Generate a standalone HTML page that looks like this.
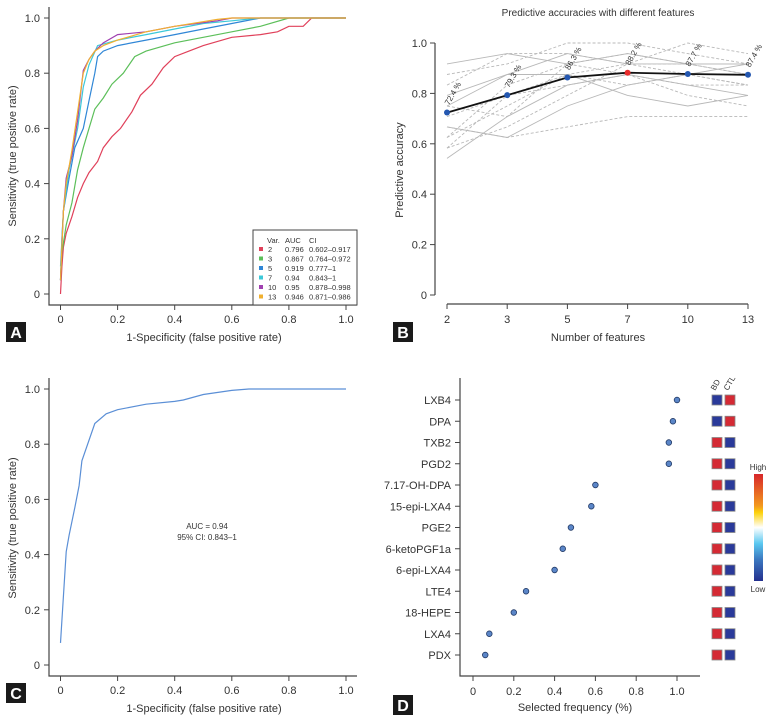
<!DOCTYPE html>
<html><head><meta charset="utf-8">
<style>
body{margin:0;background:#fff;}
svg{display:block;font-family:"Liberation Sans",sans-serif;}
text{fill:#333;}
</style></head>
<body>
<svg id="fig" width="774" height="720" viewBox="0 0 774 720">
<defs>
<linearGradient id="cb" x1="0" y1="0" x2="0" y2="1">
<stop offset="0" stop-color="#d7262a"/><stop offset="0.3" stop-color="#f39a1e"/><stop offset="0.36" stop-color="#fcd20a"/><stop offset="0.5" stop-color="#ffffff"/><stop offset="0.65" stop-color="#5ac8f0"/><stop offset="0.8" stop-color="#3b78c0"/><stop offset="1" stop-color="#24308e"/>
</linearGradient>
</defs>
<g id="pA"></g>
<g id="pB"></g>
<g id="pC"></g>
<g id="pD"></g>
</svg>
<script>
// ---- Panel A data ----
const aVars = ["2","3","5","7","10","13"];
const aAUC = ["0.796","0.867","0.919","0.94","0.95","0.946"];
const aCI = ["0.602–0.917","0.764–0.972","0.777–1","0.843–1","0.878–0.998","0.871–0.986"];
const aColors = ["#e0405a","#5cbf5a","#2f86d6","#3cc8d8","#a040b0","#f0b030"];
const aFpr2 = [0,0.005,0.01,0.02,0.04,0.06,0.08,0.1,0.13,0.15,0.18,0.21,0.25,0.28,0.32,0.36,0.4,0.45,0.5,0.6,0.7,0.76,0.8,0.85,0.88,1];
const aTpr2 = [0,0.1,0.17,0.22,0.28,0.35,0.4,0.44,0.48,0.53,0.57,0.6,0.66,0.72,0.76,0.82,0.86,0.88,0.9,0.93,0.94,0.95,0.97,0.97,1,1];
const aFpr3 = [0,0.005,0.02,0.04,0.06,0.08,0.1,0.12,0.15,0.18,0.22,0.26,0.3,0.4,0.5,0.6,0.7,0.8,1];
const aTpr3 = [0.05,0.15,0.25,0.33,0.45,0.53,0.6,0.67,0.71,0.76,0.8,0.86,0.88,0.91,0.93,0.95,0.97,1,1];
const aFpr5 = [0,0.005,0.01,0.03,0.05,0.08,0.1,0.12,0.13,0.15,0.2,0.3,0.4,0.5,0.6,0.7,1];
const aTpr5 = [0.05,0.2,0.3,0.42,0.53,0.6,0.7,0.8,0.86,0.88,0.9,0.92,0.94,0.96,0.98,1,1];
const aFpr7 = [0,0.01,0.03,0.06,0.08,0.1,0.13,0.2,0.3,0.4,0.5,0.6,0.7,1];
const aTpr7 = [0.1,0.3,0.45,0.6,0.75,0.83,0.9,0.92,0.94,0.96,0.98,0.99,1,1];
const aFpr10 = [0,0.01,0.02,0.04,0.06,0.08,0.1,0.12,0.15,0.2,0.3,0.4,0.55,0.6,1];
const aTpr10 = [0.05,0.3,0.42,0.5,0.63,0.81,0.85,0.88,0.91,0.94,0.95,0.97,0.99,1,1];
const aFpr13 = [0,0.01,0.02,0.04,0.06,0.08,0.1,0.12,0.15,0.2,0.3,0.4,0.55,0.6,1];
const aTpr13 = [0.05,0.3,0.4,0.52,0.66,0.8,0.85,0.88,0.9,0.92,0.95,0.97,0.995,1,1];
const aTicks = [0,0.2,0.4,0.6,0.8,1.0];
const aTickLabels = ["0","0.2","0.4","0.6","0.8","1.0"];
// ---- Panel B data ----
const bCats = ["2","3","5","7","10","13"];
const bMean = [0.724,0.793,0.863,0.882,0.877,0.874];
const bMeanLabels = ["72.4 %","79.3 %","86.3 %","88.2 %","87.7 %","87.4 %"];
const bFold1 = [0.917,0.958,0.917,0.958,0.917,0.917];
const bFold2 = [0.875,0.917,1.0,1.0,0.958,0.917];
const bFold3 = [0.833,0.958,0.958,0.917,0.875,0.833];
const bFold4 = [0.792,0.875,0.875,0.792,0.75,0.792];
const bFold5 = [0.75,0.708,0.917,0.958,0.917,0.875];
const bFold6 = [0.708,0.792,0.833,0.875,0.833,0.833];
const bFold7 = [0.667,0.625,0.75,0.833,0.875,0.917];
const bFold8 = [0.625,0.75,0.875,0.917,1.0,0.958];
const bFold9 = [0.583,0.667,0.792,0.917,0.917,0.875];
const bFold10 = [0.542,0.708,0.833,0.875,0.833,0.792];
const bFold11 = [0.625,0.833,0.917,0.875,0.792,0.75];
const bFold12 = [0.667,0.625,0.667,0.708,0.708,0.708];
const bFold13 = [0.75,0.875,0.958,0.917,0.917,0.917];
const bFold14 = [0.583,0.792,0.875,0.833,0.875,0.833];
const bYTicks = [0,0.2,0.4,0.6,0.8,1.0];
const bYTickLabels = ["0","0.2","0.4","0.6","0.8","1.0"];
// ---- Panel C data ----
const cFpr = [0,0.02,0.03,0.05,0.065,0.075,0.12,0.16,0.2,0.3,0.4,0.43,0.5,0.6,0.66,1];
const cTpr = [0.08,0.41,0.47,0.57,0.65,0.74,0.875,0.91,0.925,0.945,0.955,0.96,0.98,0.995,1,1];
// ---- Panel D data ----
const dNames = ["LXB4","DPA","TXB2","PGD2","7.17-OH-DPA","15-epi-LXA4","PGE2","6-ketoPGF1a","6-epi-LXA4","LTE4","18-HEPE","LXA4","PDX"];
const dFreq = [1.0,0.98,0.96,0.96,0.6,0.58,0.48,0.44,0.40,0.26,0.20,0.08,0.06];
const dBDHigh = [0,0,1,1,1,1,1,1,1,1,1,1,1];
const dXTicks = [0,0.2,0.4,0.6,0.8,1.0];
const dXTickLabels = ["0","0.2","0.4","0.6","0.8","1.0"];

const NS="http://www.w3.org/2000/svg";
function mk(parent,tag,attrs,txt){const e=document.createElementNS(NS,tag);for(const k in attrs)e.setAttribute(k,attrs[k]);if(txt!==undefined)e.textContent=txt;parent.appendChild(e);return e;}
function lin(d0,d1,r0,r1){return v=>r0+(v-d0)/(d1-d0)*(r1-r0);}
function panelLabel(g,x,y,t){
  const r=mk(g,"rect",{x:x,y:y,width:20,height:20,fill:"#1a1a1a"});
  
  
  const tx=mk(g,"text",{x:x+10,y:y+16,"text-anchor":"middle","font-size":"16","font-weight":"bold",style:"fill:#fff"},t);
  
  
}
function rocAxes(g,sx,sy,x0,yTop,yBot,xEnd){
  const ax=mk(g,"path",{d:`M${x0},${yTop}V${yBot}H${xEnd}`,stroke:"#444","stroke-width":"1.2",fill:"none"});
  
  
  aTicks.forEach((t,i)=>{
    mk(g,"line",{x1:x0-5,x2:x0,y1:sy(t),y2:sy(t),stroke:"#444"});
    const yl=mk(g,"text",{x:x0-9,y:sy(t)+4,"text-anchor":"end","font-size":"11"},aTickLabels[i]);
    
    
    mk(g,"line",{x1:sx(t),x2:sx(t),y1:yBot,y2:yBot+5,stroke:"#444"});
    const xl=mk(g,"text",{x:sx(t),y:yBot+18,"text-anchor":"middle","font-size":"11"},aTickLabels[i]);
    
    
  });
}

// Panel A
(function(){
  const g=document.getElementById("pA");
  const sx=lin(0,1,60.5,346), sy=lin(0,1,294,18);
  rocAxes(g,sx,sy,49,7,305,357);
  const fprs=[aFpr2,aFpr3,aFpr5,aFpr7,aFpr10,aFpr13], tprs=[aTpr2,aTpr3,aTpr5,aTpr7,aTpr10,aTpr13];
  fprs.forEach((f,k)=>{
    const d=f.map((v,i)=>(i?"L":"M")+sx(v).toFixed(1)+","+sy(tprs[k][i]).toFixed(1)).join("");
    const p=mk(g,"path",{d:d,stroke:aColors[k],"stroke-width":"1.2",fill:"none"});
    
    
  });
  const lg=mk(g,"g",{});
  
  
  mk(lg,"rect",{x:253,y:230,width:104,height:75,fill:"#fff",stroke:"#444","stroke-width":"1"});
  mk(lg,"text",{x:267,y:243,"font-size":"7.5"},"Var.");
  mk(lg,"text",{x:285,y:243,"font-size":"7.5"},"AUC");
  mk(lg,"text",{x:309,y:243,"font-size":"7.5"},"CI");
  aVars.forEach((v,i)=>{
    const y=252+i*9.5;
    const e=mk(lg,"g",{});
    
    
    mk(e,"rect",{x:259,y:y-5,width:4,height:4,fill:aColors[i]});
    mk(e,"text",{x:268,y:y,"font-size":"7.5"},v);
    mk(e,"text",{x:285,y:y,"font-size":"7.5"},aAUC[i]);
    mk(e,"text",{x:309,y:y,"font-size":"7.5"},aCI[i]);
  });
  const xt=mk(g,"text",{x:204,y:341,"text-anchor":"middle","font-size":"11"},"1-Specificity (false positive rate)");
  
  
  const yt=mk(g,"text",{x:16,y:156,"text-anchor":"middle","font-size":"11",transform:"rotate(-90 16 156)"},"Sensitivity (true positive rate)");
  
  
  panelLabel(g,6,322,"A");
})();

// Panel B
(function(){
  const g=document.getElementById("pB");
  const sy=lin(0,1,295,43);
  const sx=i=>447+i*(748-447)/(bCats.length-1);
  const title=mk(g,"text",{x:598,y:16,"text-anchor":"middle","font-size":"10"},"Predictive accuracies with different features");
  
  
  const ax=mk(g,"path",{d:"M435,43V295M447,304H748",stroke:"#444","stroke-width":"1.2",fill:"none"});
  
  
  bYTicks.forEach((t,i)=>{
    mk(g,"line",{x1:430,x2:435,y1:sy(t),y2:sy(t),stroke:"#444"});
    const l=mk(g,"text",{x:427,y:sy(t)+4,"text-anchor":"end","font-size":"11"},bYTickLabels[i]);
    
    
  });
  bCats.forEach((c,i)=>{
    mk(g,"line",{x1:sx(i),x2:sx(i),y1:304,y2:309,stroke:"#444"});
    const l=mk(g,"text",{x:sx(i),y:323,"text-anchor":"middle","font-size":"11"},c);
    
    
  });
  const folds=[bFold1,bFold2,bFold3,bFold4,bFold5,bFold6,bFold7,bFold8,bFold9,bFold10,bFold11,bFold12,bFold13,bFold14];
  folds.forEach((f,k)=>{
    const d=f.map((v,i)=>(i?"L":"M")+sx(i).toFixed(1)+","+sy(v).toFixed(1)).join("");
    const p=mk(g,"path",{d:d,stroke:"#b8b8b8","stroke-width":"0.9",fill:"none","stroke-dasharray":k%3===0?"none":"3,2"});
    
    
  });
  const md=bMean.map((v,i)=>(i?"L":"M")+sx(i).toFixed(1)+","+sy(v).toFixed(1)).join("");
  const ml=mk(g,"path",{d:md,stroke:"#111","stroke-width":"1.8",fill:"none"});
  
  
  const best=bMean.indexOf(Math.max(...bMean));
  bMean.forEach((v,i)=>{
    const c=mk(g,"circle",{cx:sx(i),cy:sy(v),r:3,fill:i===best?"#e82c2c":"#2457b0"});
    
    
    const t=mk(g,"text",{x:sx(i)+2,y:sy(v)-7,"font-size":"8",transform:`rotate(-60 ${sx(i)+2} ${sy(v)-7})`},bMeanLabels[i]);
    
    
  });
  const xt=mk(g,"text",{x:598,y:341,"text-anchor":"middle","font-size":"11"},"Number of features");
  
  
  const yt=mk(g,"text",{x:403,y:170,"text-anchor":"middle","font-size":"11",transform:"rotate(-90 403 170)"},"Predictive accuracy");
  
  
  panelLabel(g,393,322,"B");
})();

// Panel C
(function(){
  const g=document.getElementById("pC");
  const sx=lin(0,1,60.5,346), sy=lin(0,1,665,389);
  rocAxes(g,sx,sy,49,378,676,357);
  const d=cFpr.map((v,i)=>(i?"L":"M")+sx(v).toFixed(1)+","+sy(cTpr[i]).toFixed(1)).join("");
  const p=mk(g,"path",{d:d,stroke:"#5b8fd6","stroke-width":"1.2",fill:"none"});
  
  
  const t1=mk(g,"text",{x:207,y:529,"text-anchor":"middle","font-size":"8"},"AUC = 0.94");
  
  
  const t2=mk(g,"text",{x:207,y:540,"text-anchor":"middle","font-size":"8"},"95% CI: 0.843–1");
  
  
  const xt=mk(g,"text",{x:204,y:712,"text-anchor":"middle","font-size":"11"},"1-Specificity (false positive rate)");
  
  
  const yt=mk(g,"text",{x:16,y:528,"text-anchor":"middle","font-size":"11",transform:"rotate(-90 16 528)"},"Sensitivity (true positive rate)");
  
  
  panelLabel(g,6,683,"C");
})();

// Panel D
(function(){
  const g=document.getElementById("pD");
  const sx=lin(0,1,473,677);
  const sy=i=>400+i*(655-400)/(dNames.length-1);
  const ax=mk(g,"path",{d:"M460,378V676H700",stroke:"#444","stroke-width":"1.2",fill:"none"});
  
  
  dXTicks.forEach((t,i)=>{
    mk(g,"line",{x1:sx(t),x2:sx(t),y1:676,y2:681,stroke:"#444"});
    const l=mk(g,"text",{x:sx(t),y:695,"text-anchor":"middle","font-size":"11"},dXTickLabels[i]);
    
    
  });
  dNames.forEach((n,i)=>{
    const y=sy(i);
    mk(g,"line",{x1:455,x2:460,y1:y,y2:y,stroke:"#444"});
    const l=mk(g,"text",{x:451,y:y+4,"text-anchor":"end","font-size":"11"},n);
    
    
    const c=mk(g,"circle",{cx:sx(dFreq[i]),cy:y,r:2.8,fill:"#5b86c8",stroke:"#223a66","stroke-width":"0.8"});
    
    
    const hi="#d42a34", lo="#2a3a9a";
    const b=mk(g,"rect",{x:712,y:y-5,width:10,height:10,fill:dBDHigh[i]?hi:lo,stroke:"#888","stroke-width":"0.8"});
    
    
    const c2=mk(g,"rect",{x:725,y:y-5,width:10,height:10,fill:dBDHigh[i]?lo:hi,stroke:"#888","stroke-width":"0.8"});
    
    
  });
  const h1=mk(g,"text",{x:715,y:391,"font-size":"8",transform:"rotate(-60 715 391)"},"BD");
  
  
  const h2=mk(g,"text",{x:728,y:391,"font-size":"8",transform:"rotate(-60 728 391)"},"CTL");
  
  
  const cb=mk(g,"rect",{x:754,y:474,width:9,height:107,fill:"url(#cb)"});
  
  
  const hl=mk(g,"text",{x:758,y:470,"text-anchor":"middle","font-size":"8"},"High");
  
  
  const ll=mk(g,"text",{x:758,y:592,"text-anchor":"middle","font-size":"8"},"Low");
  
  
  const xt=mk(g,"text",{x:575,y:711,"text-anchor":"middle","font-size":"11"},"Selected frequency (%)");
  
  
  panelLabel(g,393,695,"D");
})();
</script>
</body></html>
